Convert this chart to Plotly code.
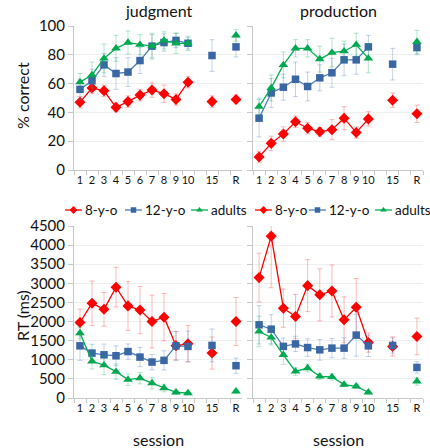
import plotly.graph_objects as go

# ---------------- data ----------------
sessions = ["1", "2", "3", "4", "5", "6", "7", "8", "9", "10", "15", "R"]
axis_categories = ["1", "2", "3", "4", "5", "6", "7", "8", "9", "10", " ", "15", "  ", "R"]
groups = ["8-y-o", "12-y-o", "adults"]
tasks = ["judgment", "production"]

# % correct, judgment
judg_acc_8 = [47, 57, 55, 43.5, 47.5, 52, 55.5, 53, 49, 61, 47.5, 49]
judg_acc_8_err = [4, 4, 4, 3, 4, 4, 5, 6, 4, 4, 4, 3]
judg_acc_12 = [56, 62, 73, 67, 68, 76, 86, 88.5, 90, 88, 79.5, 85.5]
judg_acc_12_err = [7, 8, 8, 11, 10, 9, 8, 6, 5, 4, 11, 7]
judg_acc_ad = [61, 66, 77.5, 84.5, 88.5, 87, 86, 90, 88, 88, None, 93.5]
judg_acc_ad_err = [6, 9, 10, 9, 8, 7, 9, 6, 7, 5, None, 4]

# % correct, production
prod_acc_8 = [9, 18.5, 25, 33.5, 29, 26.5, 28, 36, 26, 35.5, 48.5, 39]
prod_acc_8_err = [4, 5, 5, 4, 4, 3, 7, 8, 4, 5, 5, 6]
prod_acc_12 = [36, 53.5, 57.5, 63, 58, 64, 67.5, 76.5, 76.5, 85.5, 73.5, 85]
prod_acc_12_err = [13, 10, 9, 12, 10, 9, 10, 11, 10, 8, 11, 5]
prod_acc_ad = [44, 57, 73, 84.5, 84.5, 77, 81.5, 82.5, 87, 77.5, None, 89]
prod_acc_ad_err = [6, 9, 9, 6, 6, 9, 10, 7, 8, 10, None, 8]

# RT (ms), judgment
judg_rt_8 = [1975, 2480, 2320, 2900, 2410, 2300, 2000, 2115, 1365, 1420, 1175, 2000]
judg_rt_8_err = [350, 580, 440, 520, 640, 620, 690, 620, 370, 480, 420, 630]
judg_rt_12 = [1365, 1175, 1130, 1105, 1215, 1070, 940, 985, 1365, 1350, 1375, 845]
judg_rt_12_err = [380, 230, 280, 260, 200, 250, 200, 250, 380, 400, 430, 200]
judg_rt_ad = [1700, 960, 860, 690, 480, 520, 390, 260, 150, 130, None, 175]
judg_rt_ad_err = [150, 200, 250, 200, 150, 150, 150, 100, 50, 50, None, 50]

# RT (ms), production
prod_rt_8 = [3150, 4235, 2350, 2130, 2940, 2700, 2800, 2045, 2375, 1450, 1350, 1610]
prod_rt_8_err = [640, 1350, 500, 580, 680, 680, 680, 600, 750, 250, 250, 480]
prod_rt_12 = [1915, 1800, 1350, 1415, 1320, 1260, 1305, 1305, 1645, 1365, 1375, 800]
prod_rt_12_err = [500, 380, 220, 200, 230, 270, 250, 270, 550, 280, 200, 150]
prod_rt_ad = [1740, 1585, 1130, 695, 785, 565, 550, 350, 305, 150, None, 435]
prod_rt_ad_err = [400, 200, 250, 100, 100, 80, 80, 50, 50, 30, None, 100]

acc_ticks = [0, 20, 40, 60, 80, 100]
rt_ticks = [0, 500, 1000, 1500, 2000, 2500, 3000, 3500, 4000, 4500]

# ---------------- styles ----------------
W, H = 430, 448
FONT = "Lato"
TXT = "#111111"
styles = {
    "8-y-o": dict(marker="#FF0000", line="#FF0000", err="rgba(255,0,0,0.28)", symbol="diamond", size=8.5, lsize=6),
    "12-y-o": dict(marker="#3A67A4", line="#4A7EBB", err="rgba(79,129,189,0.35)", symbol="square", size=7.5, lsize=5.5),
    "adults": dict(marker="#00A84F", line="#00B050", err="rgba(0,176,80,0.3)", symbol="triangle-up", size=8.5, lsize=6),
}

def px(x):
    return x / W

def py(y):
    return 1 - y / H

panels = [
    ("x", "y", [judg_acc_8, judg_acc_12, judg_acc_ad], [judg_acc_8_err, judg_acc_12_err, judg_acc_ad_err]),
    ("x2", "y2", [prod_acc_8, prod_acc_12, prod_acc_ad], [prod_acc_8_err, prod_acc_12_err, prod_acc_ad_err]),
    ("x3", "y3", [judg_rt_8, judg_rt_12, judg_rt_ad], [judg_rt_8_err, judg_rt_12_err, judg_rt_ad_err]),
    ("x4", "y4", [prod_rt_8, prod_rt_12, prod_rt_ad], [prod_rt_8_err, prod_rt_12_err, prod_rt_ad_err]),
]

fig = go.Figure()
n_main = 10
for xa, ya, vals, errs in panels:
    for g, v, e in zip(groups, vals, errs):
        st = styles[g]
        # connected sessions 1-10
        fig.add_trace(go.Scatter(
            x=sessions[:n_main], y=v[:n_main], xaxis=xa, yaxis=ya,
            mode="lines+markers", name=g, showlegend=False,
            line=dict(color=st["line"], width=1.3),
            marker=dict(symbol=st["symbol"], size=st["size"], color=st["marker"]),
            error_y=dict(type="data", array=e[:n_main], color=st["err"], thickness=1, width=2.5),
        ))
        # unconnected sessions 15 and R
        fig.add_trace(go.Scatter(
            x=sessions[n_main:], y=v[n_main:], xaxis=xa, yaxis=ya,
            mode="markers", name=g, showlegend=False,
            marker=dict(symbol=st["symbol"], size=st["size"], color=st["marker"]),
            error_y=dict(type="data", array=[0 if q is None else q for q in e[n_main:]],
                         color=st["err"], thickness=1, width=2.5),
        ))

# ---------------- manual legend rows (one per task column) ----------------
legend_key_starts = {"judgment": [65, 125, 191], "production": [255, 309, 375]}
KEY_LEN = 17
LEG_Y = 0.5
for t in tasks:
    for g, x0 in zip(groups, legend_key_starts[t]):
        st = styles[g]
        fig.add_trace(go.Scatter(
            x=[x0, x0 + KEY_LEN], y=[LEG_Y, LEG_Y], xaxis="x5", yaxis="y5",
            mode="lines", showlegend=False, hoverinfo="skip",
            line=dict(color=st["line"], width=1.3),
        ))
        fig.add_trace(go.Scatter(
            x=[x0 + KEY_LEN / 2], y=[LEG_Y], xaxis="x5", yaxis="y5",
            mode="markers", showlegend=False, hoverinfo="skip", cliponaxis=False,
            marker=dict(symbol=st["symbol"], size=st["lsize"], color=st["marker"]),
        ))

annotations = []
for t in tasks:
    for g, x0 in zip(groups, legend_key_starts[t]):
        annotations.append(dict(
            x=px(x0 + KEY_LEN + 1), y=py(210), xref="paper", yref="paper",
            text=g, showarrow=False, xanchor="left", yanchor="middle",
            font=dict(family=FONT, size=13.5, color=TXT),
        ))

# titles
L_DOM = [74, 242]
R_DOM = [253, 423]
TOP = [26, 170]
BOT = [226, 398]
for t, dom in zip(tasks, [L_DOM, R_DOM]):
    annotations.append(dict(
        x=px((dom[0] + dom[1]) / 2), y=py(10), xref="paper", yref="paper",
        text=t, showarrow=False, xanchor="center", yanchor="middle",
        font=dict(family=FONT, size=16, color=TXT),
    ))
    annotations.append(dict(
        x=px((dom[0] + dom[1]) / 2), y=py(439), xref="paper", yref="paper",
        text="session", showarrow=False, xanchor="center", yanchor="middle",
        font=dict(family=FONT, size=16, color=TXT),
    ))
annotations.append(dict(
    x=px(22), y=py(96), xref="paper", yref="paper", text="% correct", textangle=-90,
    showarrow=False, xanchor="center", yanchor="middle",
    font=dict(family=FONT, size=16, color=TXT),
))
annotations.append(dict(
    x=px(22), y=py(316), xref="paper", yref="paper", text="RT (ms)", textangle=-90,
    showarrow=False, xanchor="center", yanchor="middle",
    font=dict(family=FONT, size=16, color=TXT),
))

AX_LINE = "#C8C8C8"
GRID = "#EFEFEF"

def xaxis_cfg(dom, anchor):
    return dict(
        domain=[px(dom[0]), px(dom[1])], anchor=anchor, automargin=False,
        type="category", categoryorder="array", categoryarray=axis_categories,
        tickmode="array", tickvals=axis_categories, ticktext=axis_categories, tickangle=0,
        range=[-0.5, len(axis_categories) - 0.5],
        tickson="boundaries", ticks="outside", ticklen=4, tickcolor=AX_LINE,
        showline=True, linecolor=AX_LINE, linewidth=1, showgrid=False, zeroline=False,
        tickfont=dict(family=FONT, size=11, color=TXT), fixedrange=True,
    )

def yaxis_cfg(dom, anchor, rng, ticks, labels):
    return dict(
        domain=[py(dom[1]), py(dom[0])], anchor=anchor, automargin=False,
        range=rng, tickvals=ticks, showticklabels=labels,
        ticks="outside", ticklen=5, tickcolor=AX_LINE,
        showline=True, linecolor=AX_LINE, linewidth=1,
        showgrid=True, gridcolor=GRID, gridwidth=1, zeroline=False,
        tickfont=dict(family=FONT, size=15, color=TXT), fixedrange=True,
    )

fig.update_layout(
    width=W, height=H,
    margin=dict(l=0, r=0, t=0, b=0, pad=0, autoexpand=False),
    paper_bgcolor="white", plot_bgcolor="white",
    showlegend=False,
    font=dict(family=FONT, color=TXT),
    xaxis=xaxis_cfg(L_DOM, "y"),
    yaxis=yaxis_cfg(TOP, "x", [0, 100], acc_ticks, True),
    xaxis2=xaxis_cfg(R_DOM, "y2"),
    yaxis2=yaxis_cfg(TOP, "x2", [0, 100], acc_ticks, False),
    xaxis3=xaxis_cfg(L_DOM, "y3"),
    yaxis3=yaxis_cfg(BOT, "x3", [0, 4500], rt_ticks, True),
    xaxis4=xaxis_cfg(R_DOM, "y4"),
    yaxis4=yaxis_cfg(BOT, "x4", [0, 4500], rt_ticks, False),
    xaxis5=dict(domain=[0, 1], anchor="y5", range=[0, W], visible=False, fixedrange=True, automargin=False),
    yaxis5=dict(domain=[py(222), py(198)], anchor="x5", range=[0, 1], visible=False, fixedrange=True, automargin=False),
    annotations=annotations,
)

fig.write_html(
    "out.html",
    config={"displayModeBar": False, "responsive": False},
    post_script="document.body.style.margin='0';document.body.style.overflow='hidden';",
)
